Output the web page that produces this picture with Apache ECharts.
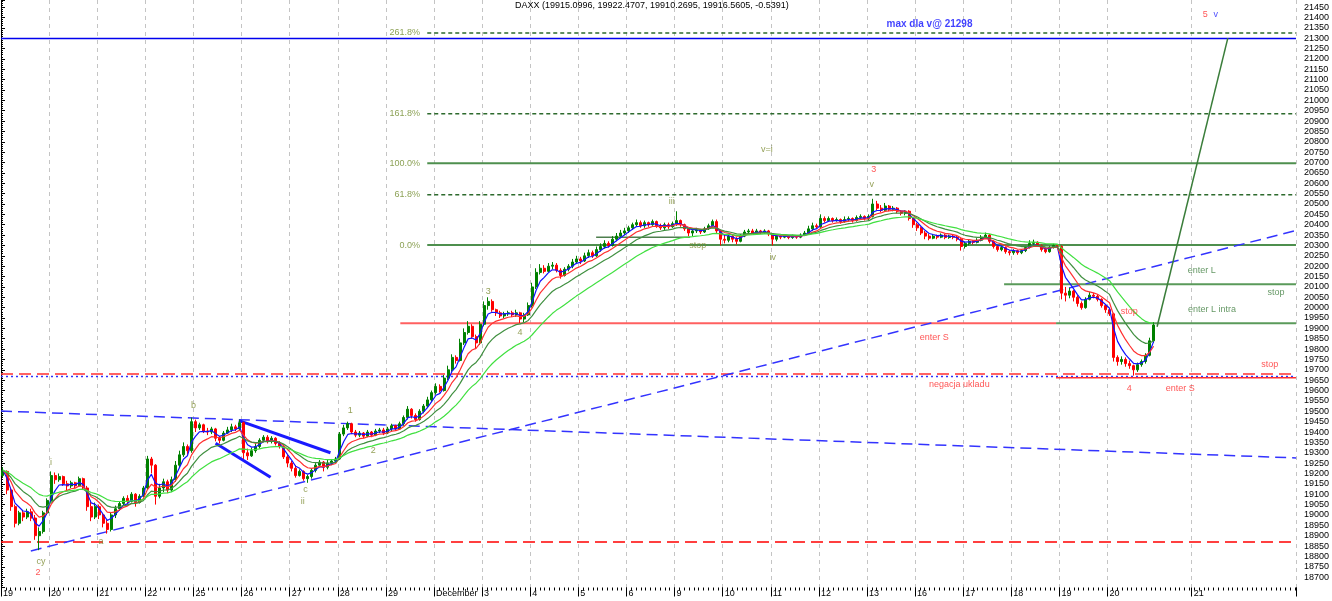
<!DOCTYPE html>
<html><head><meta charset="utf-8">
<script src="https://cdn.jsdelivr.net/npm/echarts@6/dist/echarts.min.js"></script>
<style>html,body{margin:0;padding:0;background:#fff}#c{width:1332px;height:601px}</style>
</head><body><div id="c"></div>
<script>
// ---------- DATA ----------
const slotsPerDay = 12;
const totalSlots = 323;
const dayLabels = ['19','20','21','22','25','26','27','28','29','December','3','4','5','6','9','10','11','12','13','16','17','18','19','20'];
const futureLabels = [[297, '21']];
const lastBar = [19915.0996, 19922.4707, 19910.2695, 19916.5605, -0.5391];

const open = [
19190,19210,19120,19040,18960,19010,18990,19015,18985,18900,18920,19010,
19070,19190,19170,19185,19150,19140,19155,19140,19175,19130,19040,18990,
19040,19000,18960,18930,19000,19030,19055,19080,19065,19100,19060,19090,
19130,19270,19240,19090,19130,19160,19120,19170,19240,19290,19330,19310,
19450,19420,19435,19405,19400,19415,19370,19360,19395,19410,19425,19415,
19445,19300,19285,19310,19330,19360,19375,19355,19370,19345,19330,19280,
19250,19225,19190,19210,19175,19185,19215,19240,19255,19230,19250,19260,
19270,19390,19420,19440,19400,19385,19395,19380,19400,19385,19405,19410,
19395,19415,19430,19415,19440,19470,19510,19480,19460,19500,19525,19555,
19590,19620,19600,19660,19700,19760,19745,19830,19880,19910,19860,19830,
19920,20010,20030,19990,19975,19960,19970,19975,19965,19975,19945,19965,
20010,20100,20170,20190,20175,20200,20205,20180,20155,20185,20200,20220,
20235,20225,20250,20265,20250,20280,20295,20310,20300,20330,20345,20360,
20370,20385,20400,20410,20395,20410,20400,20415,20395,20385,20400,20390,
20405,20420,20400,20380,20360,20370,20375,20365,20380,20395,20415,20370,
20330,20325,20345,20330,20320,20345,20365,20370,20360,20370,20365,20370,
20355,20330,20345,20340,20345,20338,20345,20340,20350,20360,20380,20395,
20390,20430,20420,20430,20420,20425,20415,20425,20430,20420,20435,20440,
20430,20440,20500,20480,20470,20490,20475,20480,20465,20455,20465,20430,
20400,20385,20360,20345,20335,20345,20340,20350,20338,20345,20340,20330,
20295,20310,20320,20315,20325,20340,20350,20320,20295,20280,20290,20270,
20265,20275,20265,20275,20290,20310,20315,20300,20280,20270,20290,20300,
20295,20070,20060,20080,20050,20020,20000,20040,20060,20055,20040,20010,
19990,19970,19760,19740,19750,19730,19720,19700,19725,19740,19770,19840];
const close = [
19215,19120,19040,18960,19010,18990,19015,18985,18900,18920,19010,19070,
19190,19170,19185,19150,19140,19155,19140,19175,19130,19040,18990,19040,
19000,18960,18930,19000,19030,19055,19080,19065,19100,19060,19090,19130,
19270,19240,19090,19130,19160,19120,19170,19240,19290,19330,19310,19450,
19420,19435,19405,19400,19415,19370,19360,19395,19410,19425,19415,19445,
19300,19285,19310,19330,19360,19375,19355,19370,19345,19330,19280,19250,
19225,19190,19210,19175,19185,19215,19240,19255,19230,19250,19260,19270,
19390,19420,19440,19400,19385,19395,19380,19400,19385,19405,19410,19395,
19415,19430,19415,19440,19470,19510,19480,19460,19500,19525,19555,19590,
19620,19600,19660,19700,19760,19745,19830,19880,19910,19860,19830,19920,
20010,20030,19990,19975,19960,19970,19975,19965,19975,19945,19965,20010,
20100,20170,20190,20175,20200,20205,20180,20155,20185,20200,20220,20235,
20225,20250,20265,20250,20280,20295,20310,20300,20330,20345,20360,20370,
20385,20400,20410,20395,20410,20400,20415,20395,20385,20400,20390,20405,
20420,20400,20380,20360,20370,20375,20365,20380,20395,20415,20370,20330,
20325,20345,20330,20320,20345,20365,20370,20360,20370,20365,20370,20355,
20330,20345,20340,20345,20338,20345,20340,20350,20360,20380,20395,20390,
20430,20420,20430,20420,20425,20415,20425,20430,20420,20435,20440,20430,
20440,20500,20480,20470,20490,20475,20480,20465,20455,20465,20430,20400,
20385,20360,20345,20335,20345,20340,20350,20338,20345,20340,20330,20295,
20310,20320,20315,20325,20340,20350,20320,20295,20280,20290,20270,20265,
20275,20265,20275,20290,20310,20315,20300,20280,20270,20290,20300,20295,
20070,20060,20080,20050,20020,20000,20040,20060,20055,20040,20010,19990,
19970,19760,19740,19750,19730,19720,19700,19725,19740,19770,19840,19916];
const low = [
19180,19100,19020,18940,18950,18970,18980,18970,18880,18830,18910,19000,
19060,19150,19160,19140,19120,19130,19130,19135,19120,19020,18970,18980,
18980,18940,18910,18920,18985,19020,19045,19050,19060,19040,19055,19085,
19120,19200,19050,19080,19110,19105,19110,19160,19230,19280,19290,19300,
19400,19410,19395,19385,19390,19355,19345,19355,19390,19400,19405,19410,
19270,19265,19280,19300,19320,19350,19345,19345,19335,19320,19270,19230,
19210,19180,19185,19165,19155,19175,19205,19230,19210,19220,19240,19250,
19265,19380,19410,19390,19375,19375,19370,19375,19375,19380,19395,19385,
19390,19405,19405,19410,19430,19460,19465,19450,19455,19490,19515,19545,
19580,19590,19595,19650,19690,19730,19740,19820,19870,19850,19800,19820,
19910,19990,19980,19960,19950,19950,19960,19955,19955,19925,19930,19960,
20000,20090,20160,20165,20170,20185,20170,20140,20150,20175,20190,20210,
20210,20220,20240,20240,20245,20270,20285,20290,20295,20320,20335,20350,
20360,20375,20390,20385,20385,20390,20395,20385,20375,20375,20380,20385,
20395,20390,20370,20345,20345,20360,20355,20360,20375,20390,20360,20300,
20310,20315,20315,20305,20315,20340,20355,20355,20355,20355,20355,20345,
20300,20320,20330,20335,20330,20332,20332,20335,20345,20355,20370,20380,
20385,20410,20415,20410,20415,20405,20410,20415,20410,20415,20425,20420,
20420,20435,20470,20460,20465,20465,20465,20455,20445,20445,20420,20385,
20370,20350,20330,20325,20330,20330,20335,20330,20332,20330,20320,20275,
20285,20300,20305,20310,20320,20335,20310,20285,20270,20272,20260,20252,
20255,20255,20258,20268,20285,20300,20295,20270,20262,20265,20285,20285,
20040,20030,20045,20030,20005,19990,19995,20035,20045,20030,20000,19975,
19960,19740,19720,19725,19715,19705,19672,19690,19715,19730,19765,19830];
const high = [
19230,19215,19130,19050,19020,19020,19030,19030,19000,18940,19020,19080,
19210,19205,19200,19190,19165,19165,19160,19185,19180,19140,19070,19060,
19050,19010,18975,19010,19045,19065,19090,19095,19110,19105,19100,19140,
19285,19280,19245,19150,19175,19170,19185,19260,19310,19350,19340,19470,
19460,19445,19440,19420,19425,19420,19380,19405,19425,19440,19435,19460,
19450,19320,19325,19345,19370,19385,19385,19380,19375,19355,19340,19290,
19260,19240,19220,19215,19195,19225,19250,19265,19260,19265,19270,19280,
19400,19435,19450,19445,19410,19405,19400,19410,19405,19415,19420,19420,
19425,19440,19435,19450,19480,19525,19515,19490,19510,19535,19570,19600,
19635,19630,19675,19720,19775,19770,19850,19900,19935,19920,19870,19935,
20030,20050,20040,19995,19985,19980,19985,19985,19990,19980,19975,20025,
20120,20190,20210,20205,20215,20220,20215,20190,20195,20210,20235,20250,
20245,20265,20280,20275,20295,20310,20325,20320,20345,20360,20375,20385,
20395,20410,20425,20420,20420,20415,20425,20420,20405,20410,20410,20415,
20465,20425,20405,20385,20380,20385,20380,20390,20405,20425,20425,20375,
20350,20355,20350,20340,20355,20375,20380,20380,20380,20375,20378,20375,
20360,20350,20350,20352,20350,20352,20350,20358,20370,20395,20410,20405,
20450,20440,20440,20435,20435,20430,20440,20440,20435,20445,20450,20445,
20450,20525,20515,20495,20505,20495,20490,20485,20470,20470,20470,20435,
20410,20390,20370,20355,20355,20352,20358,20355,20352,20352,20348,20335,
20318,20328,20325,20335,20350,20362,20355,20325,20300,20298,20295,20278,
20282,20280,20282,20298,20325,20328,20320,20305,20290,20298,20308,20305,
20300,20100,20095,20085,20060,20030,20050,20075,20070,20065,20045,20015,
19995,19975,19770,19765,19760,19745,19725,19735,19750,19780,19855,19930];

const maPeriods = [4, 8, 14, 26];

// levels (value) and segments in day units [startDay, endDay, value]
const maxLevel = 21298;
const fibValues = [21325, 20935, 20697, 20545, 20302];
const fibNames = ['261.8%', '161.8%', '100.0%', '61.8%', '0.0%'];
const fibStartDay = 8.86;
const fibLabelDay = 8.72;
const shortStopSeg = [12.37, 14.32, 20340];
const enterLSeg = [20.85, null, 20113];
const enterLIntraSeg = [21.93, null, 19925];
const enterSSeg = [8.30, 21.93, 19925];
const negationDashed = 19680;
const negationDotted = 19668;
const enterS2Seg = [21.93, null, 19662];
const lowDashed = 18870;
const risingTrend = [[0.62, 18826], [26.92, 20372]];
const fallingTrend = [[0, 19501], [26.92, 19275]];
const wedgeUpper = [[4.945, 19455], [6.848, 19300]];
const wedgeLower = [[4.461, 19346], [5.603, 19182]];
const projection = [[24.03, 19908], [25.50, 21300]];

const oliveLabels = [[0.83,18773,'cy'],[1.04,19255,'i'],[2.08,18874,'a'],[4.0,19530,'b'],[6.33,19125,'c'],[6.27,19067,'ii'],
  [7.26,19506,'1'],[7.74,19313,'2'],[10.13,20080,'3'],[10.79,19878,'4'],[13.94,20510,'iii'],[14.48,20302,'stop'],
  [16.04,20244,'iv'],[15.92,20765,'v=i'],[18.1,20596,'v']];
const redLabels = [[0.77,18720,'2'],[18.14,20664,'3'],[23.45,19608,'4'],[25.03,21412,'5'],[19.40,19858,'enter S'],
  [19.92,19627,'negacja ukladu'],[23.45,19979,'stop'],[26.37,19728,'stop'],[24.51,19608,'enter S']];
const greenLabels = [[24.96,20177,'enter L'],[26.5,20071,'stop'],[25.17,19989,'enter L intra']];
const blueLabels = [[25.25,21412,'v']];
const blueBoldLabels = [[19.3,21368,'max dla v@ 21298']];

// ---------- BUILD ----------
const xEnd = totalSlots / slotsPerDay;
const labelMap = {};
dayLabels.forEach((t, k) => { labelMap[k * slotsPerDay] = t; });
futureLabels.forEach(([s, t]) => { labelMap[s] = t; });
const cats = Array.from({length: totalSlots}, (_, i) => 's' + i);
const candles = open.map((o, i) => [o, close[i], low[i], high[i]]);
function ema(src, n) {
  const a = 2 / (n + 1); let e = src[0];
  return src.map(v => { e = e + a * (v - e); return +e.toFixed(1); });
}
const FONT = 'Liberation Sans';
function seg(s, color, width, type, z) {
  const x1 = s[1] == null ? xEnd : s[1];
  return {type:'line', xAxisIndex:1, data:[[s[0], s[2]], [x1, s[2]]], symbol:'none', silent:true, animation:false, z: z || 2,
    lineStyle:{color, width, type: type || 'solid'}};
}
function pts(p, color, width, type) {
  return {type:'line', xAxisIndex:1, data:p, symbol:'none', silent:true, animation:false, z:2,
    lineStyle:{color, width, type: type || 'solid'}};
}
function labels(items, color, extra) {
  return {type:'scatter', xAxisIndex:1, symbolSize:1, itemStyle:{color:'rgba(0,0,0,0)'}, silent:true, animation:false, z:8,
    data: items.map(it => ({value:[it[0], it[1]], name: it[2]})),
    label:Object.assign({show:true, position:'inside', formatter:'{b}', color, fontSize:9, fontFamily:FONT}, extra || {})};
}
const maColors = ['#1010ff', '#ff3030', '#3f8f3f', '#40e040'];
const series = [];
series.push(seg([0, xEnd, maxLevel], '#0000ee', 1.5));
fibValues.forEach((v, i) => {
  const solid = fibNames[i] === '100.0%' || fibNames[i] === '0.0%';
  series.push(seg([fibStartDay, null, v], solid ? '#4e8f4e' : '#2d6a2d', solid ? 2 : 1.5, solid ? 'solid' : [4, 3]));
});
series.push(seg(shortStopSeg, '#4e7f4e', 1.5));
series.push(seg(enterLSeg, '#5a9a5a', 2));
series.push(seg(enterLIntraSeg, '#5a9a5a', 2));
series.push(seg(enterSSeg, '#ff6060', 2));
series.push(seg([0, null, negationDashed], '#ff3030', 1.5, [12, 6]));
series.push(seg([0, null, negationDotted], '#3030ff', 1.5, [2, 3]));
series.push(seg(enterS2Seg, '#ff3030', 1.5));
series.push(seg([0, null, lowDashed], '#ff0000', 1.5, [12, 6]));
series.push(pts(risingTrend, '#3333ff', 1.5, [11, 6]));
series.push(pts(fallingTrend, '#3333ff', 1.5, [11, 6]));
series.push(pts(wedgeUpper, '#1a1aff', 3));
series.push(pts(wedgeLower, '#1a1aff', 3));
series.push(pts(projection, '#3a7d3a', 1.5));
series.push({type:'candlestick', xAxisIndex:0, data:candles, barWidth:2.5, silent:true, animation:false, z:4,
  itemStyle:{color:'#008000', color0:'#ff0000', borderColor:'#008000', borderColor0:'#ff0000', borderWidth:1}});
maPeriods.forEach((n, i) => {
  series.push({type:'line', xAxisIndex:0, data:ema(close, n), symbol:'none', silent:true, animation:false, z:5,
    lineStyle:{color:maColors[i], width:1.2}});
});
series.push(labels(fibValues.map((v, i) => [fibLabelDay, v, fibNames[i]]), '#6f8a2a', {position:'left', distance:0}));
series.push(labels(oliveLabels, '#7a8a30'));
series.push(labels(redLabels, '#ff2a2a'));
series.push(labels(greenLabels, '#3d7d3d'));
series.push(labels(blueLabels, '#2020ff'));
series.push(labels(blueBoldLabels, '#1010ff', {fontWeight:'bold', fontSize:10}));

const chart = echarts.init(document.getElementById('c'), null, {renderer:'canvas'});
chart.setOption({
  animation:false,
  backgroundColor:'#ffffff',
  title:{text:'DAXX (' + lastBar.join(', ') + ')', left:515, top:1, padding:0,
    textStyle:{fontSize:9, fontWeight:'normal', color:'#000', fontFamily:FONT}},
  grid:{left:0, right:35, top:0, bottom:13.5, containLabel:false},
  xAxis:[
    {type:'category', data:cats, boundaryGap:true, position:'bottom',
     axisLine:{show:false},
     axisTick:{show:true, length:9, interval:(i) => labelMap[i] !== undefined, lineStyle:{color:'#000'}},
     axisLabel:{show:true, interval:0, align:'left', margin:2, fontSize:9, color:'#000', fontFamily:FONT,
       formatter:(v, i) => labelMap[i] !== undefined ? labelMap[i] : ''},
     splitLine:{show:true, interval:(i) => labelMap[i] !== undefined && i > 0, lineStyle:{color:'#c4c4c4', type:[4, 4], width:1}}},
    {type:'value', min:0, max:xEnd, interval:1, position:'bottom', show:true,
     axisLine:{show:false}, axisLabel:{show:false}, splitLine:{show:false},
     axisTick:{show:true, length:3, lineStyle:{color:'#000'}},
     minorTick:{show:true, splitNumber:10, length:3, lineStyle:{color:'#000'}}}
  ],
  yAxis:{type:'value', position:'right', min:18650, max:21484, interval:50,
    axisLine:{show:true, lineStyle:{color:'#000', width:1}},
    axisTick:{show:true, length:4, lineStyle:{color:'#000'}},
    minorTick:{show:true, splitNumber:5, length:2, lineStyle:{color:'#000'}},
    axisLabel:{show:true, margin:8, fontSize:9, color:'#000', fontFamily:FONT,
      formatter:(v) => (v <= 18650 || v >= 21484) ? '' : String(v)},
    splitLine:{show:false}},
  series
});
</script></body></html>
